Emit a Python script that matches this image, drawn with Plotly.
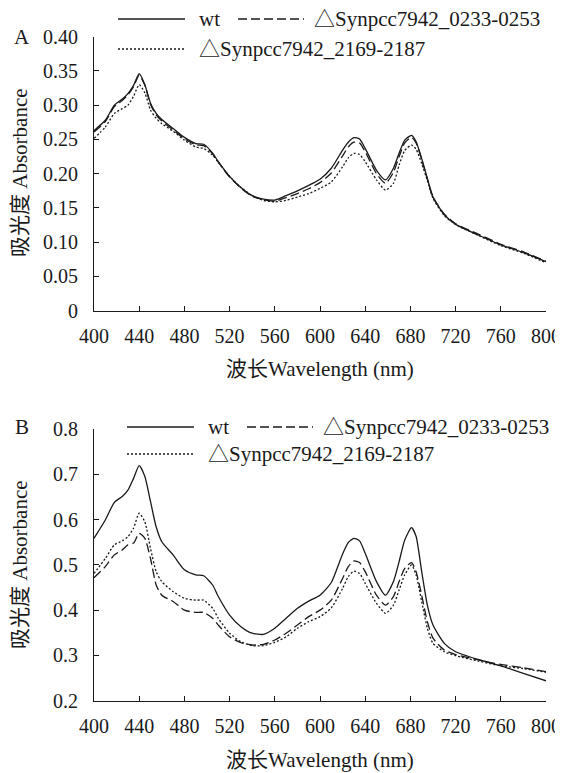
import plotly.graph_objects as go

# ---------------- data ----------------
wavelength = [400, 410, 418, 425, 430, 435, 440, 445, 450, 455, 460, 470, 480, 490, 497,
              505, 510, 520, 530, 540, 550, 560, 570, 580, 590, 600, 610, 620, 625, 630,
              635, 640, 650, 658, 665, 670, 675, 681, 685, 690, 695, 700, 710, 720, 740,
              760, 780, 800]

a_wt = [0.263, 0.278, 0.300, 0.309, 0.317, 0.329, 0.346, 0.330, 0.303, 0.288, 0.279, 0.266,
        0.253, 0.244, 0.243, 0.230, 0.2175, 0.196, 0.180, 0.168, 0.163, 0.1615, 0.168, 0.175,
        0.183, 0.192, 0.208, 0.2345, 0.246, 0.2526, 0.2506, 0.237, 0.205, 0.191, 0.208, 0.230,
        0.249, 0.256, 0.247, 0.222, 0.193, 0.166, 0.140, 0.126, 0.1105, 0.096, 0.085, 0.0715]
a_0233 = [0.261, 0.276, 0.298, 0.307, 0.315, 0.327, 0.344, 0.329, 0.301, 0.286, 0.277, 0.264,
          0.251, 0.242, 0.241, 0.229, 0.217, 0.195, 0.179, 0.167, 0.162, 0.160, 0.165, 0.171,
          0.178, 0.187, 0.201, 0.226, 0.239, 0.246, 0.245, 0.232, 0.200, 0.186, 0.202, 0.225,
          0.245, 0.253, 0.245, 0.221, 0.192, 0.166, 0.141, 0.127, 0.112, 0.097, 0.086, 0.072]
a_2169 = [0.2516, 0.268, 0.288, 0.295, 0.300, 0.313, 0.330, 0.318, 0.293, 0.281, 0.273, 0.262,
          0.249, 0.239, 0.237, 0.227, 0.2165, 0.196, 0.180, 0.168, 0.161, 0.159, 0.161, 0.166,
          0.171, 0.1786, 0.188, 0.210, 0.223, 0.2297, 0.228, 0.2175, 0.191, 0.176, 0.186, 0.2125,
          0.234, 0.2418, 0.236, 0.215, 0.190, 0.164, 0.139, 0.126, 0.110, 0.095, 0.084, 0.070]

b_wt = [0.5586, 0.599, 0.638, 0.651, 0.665, 0.691, 0.719, 0.695, 0.640, 0.584, 0.551, 0.522,
        0.489, 0.478, 0.476, 0.4555, 0.430, 0.389, 0.3635, 0.349, 0.3465, 0.360, 0.382, 0.404,
        0.420, 0.433, 0.461, 0.524, 0.549, 0.5586, 0.553, 0.5255, 0.463, 0.433, 0.463, 0.507,
        0.555, 0.582, 0.563, 0.485, 0.411, 0.367, 0.3267, 0.308, 0.291, 0.277, 0.2604, 0.244]
b_0233 = [0.4717, 0.496, 0.522, 0.533, 0.544, 0.548, 0.5697, 0.5586, 0.514, 0.4555,
          0.433, 0.419, 0.400, 0.395, 0.395, 0.382, 0.367, 0.341, 0.328, 0.323, 0.3245, 0.334,
          0.349, 0.367, 0.3856, 0.400, 0.422, 0.470, 0.496, 0.5085, 0.505, 0.485, 0.433, 0.411,
          0.4297, 0.463, 0.492, 0.505, 0.485, 0.433, 0.3745, 0.338, 0.312, 0.302, 0.290, 0.280,
          0.273, 0.264]
b_2169 = [0.481, 0.514, 0.544, 0.553, 0.562, 0.581, 0.614, 0.595, 0.5365, 0.485, 0.463, 0.441,
          0.426, 0.422, 0.422, 0.404, 0.382, 0.349, 0.330, 0.3215, 0.3215, 0.329, 0.341, 0.360,
          0.3745, 0.3856, 0.405, 0.448, 0.474, 0.486, 0.481, 0.459, 0.415, 0.393, 0.411, 0.4445,
          0.478, 0.4997, 0.478, 0.419, 0.360, 0.3267, 0.308, 0.2994, 0.2876, 0.277, 0.271, 0.2626]

x_ticks = [400, 440, 480, 520, 560, 600, 640, 680, 720, 760, 800]
a_yticks = [0, 0.05, 0.10, 0.15, 0.20, 0.25, 0.30, 0.35, 0.40]
a_ytext = ["0", "0.05", "0.10", "0.15", "0.20", "0.25", "0.30", "0.35", "0.40"]
b_yticks = [0.2, 0.3, 0.4, 0.5, 0.6, 0.7, 0.8]
b_ytext = ["0.2", "0.3", "0.4", "0.5", "0.6", "0.7", "0.8"]

names = ["wt", "△Synpcc7942_0233-0253", "△Synpcc7942_2169-2187"]
x_title = "波长Wavelength (nm)"
y_title = "吸光度 Absorbance"

# ---------------- style ----------------
# the page body has an 8px margin; design in page pixels, then shift by OFF
OFF = 8
W, H = 563 - OFF, 773 - OFF
FONT = "Liberation Serif, Times New Roman, Noto Sans CJK SC, serif"
INK = "#1a1a1a"
FS = 21
TFS = 20
dashes = ["solid", "9px,4px", "2px,2px"]


def px(x, y):
    return (x - OFF) / W, 1 - (y - OFF) / H


fig = go.Figure()
panels = [("x", "y", [a_wt, a_0233, a_2169]), ("x2", "y2", [b_wt, b_0233, b_2169])]
for xa, ya, series in panels:
    for vals, dash, name in zip(series, dashes, names):
        fig.add_trace(go.Scatter(
            x=wavelength, y=vals, mode="lines", name=name, xaxis=xa, yaxis=ya,
            line=dict(color=INK, width=1.3, dash=dash, shape="spline", smoothing=0.6),
            showlegend=False))

x0, x1 = px(94, 0)[0], px(546, 0)[0]
axis_common = dict(showline=True, linecolor=INK, linewidth=1.2, ticks="inside", ticklen=5,
                   tickcolor=INK, tickwidth=1.2, showgrid=False, zeroline=False,
                   automargin=False, ticklabeloverflow="allow",
                   tickfont=dict(family=FONT, size=TFS, color=INK))

fig.update_layout(
    template="none",
    font=dict(family=FONT, size=FS, color=INK),
    width=W, height=H, margin=dict(l=0, r=0, t=0, b=0, pad=0),
    paper_bgcolor="white", plot_bgcolor="white",
    xaxis=dict(domain=[x0, x1], range=[400, 800], tickvals=x_ticks, anchor="y",
               ticklabelstandoff=7, **axis_common),
    yaxis=dict(domain=[px(0, 310.7)[1], px(0, 36.7)[1]], range=[0, 0.40], tickvals=a_yticks,
               ticktext=a_ytext, anchor="x", ticklabelstandoff=11, **axis_common),
    xaxis2=dict(domain=[x0, x1], range=[400, 800], tickvals=x_ticks, anchor="y2",
                ticklabelstandoff=7, **axis_common),
    yaxis2=dict(domain=[px(0, 700.7)[1], px(0, 429)[1]], range=[0.2, 0.8], tickvals=b_yticks,
                ticktext=b_ytext, anchor="x2", ticklabelstandoff=11, **axis_common),
)

annotations = []
shapes = []


def text(x, y, s, xanchor="center", angle=0):
    ax, ay = px(x, y)
    annotations.append(dict(x=ax, y=ay, xref="paper", yref="paper", text=s, showarrow=False,
                            xanchor=xanchor, yanchor="middle", textangle=angle, borderpad=0,
                            font=dict(family=FONT, size=FS, color=INK)))


def seg(xa, xb, y, dash):
    pa = px(xa, y)
    pb = px(xb, y)
    shapes.append(dict(type="line", xref="paper", yref="paper", x0=pa[0], y0=pa[1],
                       x1=pb[0], y1=pb[1], line=dict(color=INK, width=1.3, dash=dash)))


# panel labels
text(22, 37, "A")
text(22, 427, "B")
# axis titles
text(320, 369, x_title)
text(320, 760, x_title)
text(20, 173, y_title, angle=-90)
text(20, 565, y_title, angle=-90)

# legends
for (r1, r2, lx) in [(19, 49, 118), (427, 454, 127)]:
    seg(lx, lx + 67, r1, dashes[0])
    text(lx + 80, r1, names[0], xanchor="left")
    seg(lx + 120, lx + 186, r1, dashes[1])
    text(lx + 195, r1, names[1], xanchor="left")
    seg(lx, lx + 67, r2, dashes[2])
    text(lx + 80, r2, names[2], xanchor="left")

fig.update_layout(annotations=annotations, shapes=shapes)
fig.write_html("out.html")
